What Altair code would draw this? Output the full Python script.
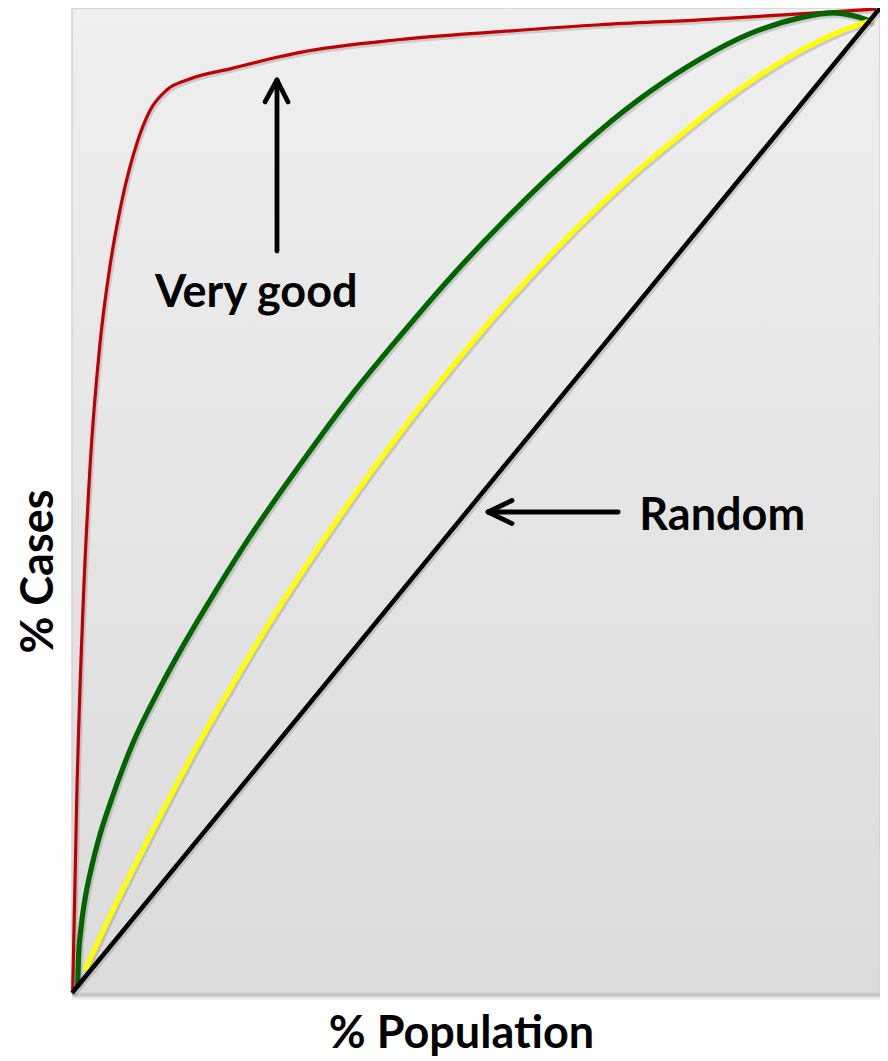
import altair as alt
import pandas as pd

# ---- curve data (x = % population, y = % cases) ----
red_x = [0.09, 0.58, 1.40, 2.23, 3.47, 4.70, 6.19, 8.04, 9.65, 11.76, 14.23, 19.93, 25.37, 28.22, 40.59, 52.97, 65.35, 77.72, 90.10, 99.50]
red_y = [0.3, 19.6, 39.9, 53.4, 66.0, 73.8, 80.5, 86.3, 89.6, 91.7, 92.7, 93.9, 95.0, 95.5, 96.8, 97.6, 98.3, 98.8, 99.4, 99.9]

green_x = [0.7, 0.8, 1.1, 1.6, 2.4, 3.4, 4.7, 7.5, 10.9, 14.2, 17.4, 22.0, 28.2, 34.4, 40.6, 46.8, 53.0, 59.2, 65.4, 71.5, 77.7, 83.9, 90.1, 94.2, 97.2, 99.0]
green_y = [0.8, 3.5, 6.5, 9.5, 12.7, 15.9, 19.2, 25.3, 31.0, 35.9, 40.3, 46.3, 53.6, 60.5, 66.7, 72.6, 78.0, 83.0, 87.6, 91.5, 94.8, 97.4, 99.0, 99.5, 99.1, 98.6]

yellow_x = [1.6, 5, 10, 15, 20, 25, 30, 35, 40, 45, 50, 55, 60, 65, 70, 75, 80, 85, 90, 95, 99.1]
yellow_y = [2.3, 8.3, 16.5, 24.3, 31.5, 38.3, 44.6, 50.6, 56.2, 61.5, 66.5, 71.2, 75.6, 79.7, 83.5, 86.9, 90.2, 93.1, 95.6, 97.6, 98.8]

random_x = [0, 100]
random_y = [0, 100]

# ---- annotations ----
label_text = ["Very good", "Random"]
label_x = [22.8, 70.2]
label_y = [69.6, 47.0]
label_align = ["center", "left"]

# arrow segments: (x, y) -> (x2, y2)
arrow_x = [25.37, 25.37, 25.37, 67.6, 51.49, 51.49]
arrow_y = [75.33, 92.69, 92.69, 48.83, 48.83, 48.83]
arrow_x2 = [25.37, 23.89, 26.73, 51.7, 54.46, 54.46]
arrow_y2 = [92.5, 90.46, 90.46, 48.83, 50.0, 47.66]

W, H = 808, 985
FONT = "Lato"
TSIZE = 45

xs = alt.Scale(domain=[0, 100], nice=False, zero=False)
ys = alt.Scale(domain=[0, 100], nice=False, zero=False)

axx = alt.Axis(title="% Population", domain=False, ticks=False, labels=False, grid=False,
               titleFont=FONT, titleFontSize=TSIZE, titleFontWeight="bold", titleColor="black",
               titleX=389, titleY=54, titleBaseline="alphabetic", titleAlign="center")
axy = alt.Axis(title="% Cases", domain=False, ticks=False, labels=False, grid=False,
               titleFont=FONT, titleFontSize=TSIZE, titleFontWeight="bold", titleColor="black",
               titleX=-20, titleY=563, titleAngle=270, titleBaseline="alphabetic", titleAlign="center")


def X(f="x"):
    return alt.X(f, type="quantitative", scale=xs, axis=axx)


def Y(f="y"):
    return alt.Y(f, type="quantitative", scale=ys, axis=axy)


one = pd.DataFrame({"k": [0]})

layers = []
# drop shadow of the plot box
for dx, dy, op in [(4, 7, 0.12), (3, 5, 0.2), (2, 3, 0.3)]:
    layers.append(
        alt.Chart(one).mark_rect(fill="#888888", opacity=op).encode(
            x=alt.value(0), x2=alt.value(W + dx), y=alt.value(1), y2=alt.value(H + dy))
    )
# gradient background
grad = alt.Gradient(gradient="linear", x1=0, x2=0, y1=0, y2=1,
                    stops=[alt.GradientStop(color="#efefef", offset=0),
                           alt.GradientStop(color="#dbdbdb", offset=1)])
layers.append(
    alt.Chart(one).mark_rect(fill=grad, stroke="#d2d2d2", strokeWidth=1.5).encode(
        x=alt.value(0), x2=alt.value(W), y=alt.value(0), y2=alt.value(H))
)


def curve(xv, yv, color, width):
    df = pd.DataFrame({"x": xv, "y": yv})
    base = alt.Chart(df)
    sh = base.mark_line(color="#7a7a7a", opacity=0.3, strokeWidth=width + 1,
                        interpolate="monotone", xOffset=1.5, yOffset=2).encode(x=X(), y=Y())
    ln = base.mark_line(color=color, strokeWidth=width, interpolate="monotone").encode(x=X(), y=Y())
    return [sh, ln]


layers += curve(red_x, red_y, "#c00000", 3.2)
layers += curve(green_x, green_y, "#006400", 5.2)
layers += curve(yellow_x, yellow_y, "#ffff00", 5)
layers += curve(random_x, random_y, "#000000", 4.5)

arrows = pd.DataFrame({"x": arrow_x, "y": arrow_y, "x2": arrow_x2, "y2": arrow_y2})
layers.append(
    alt.Chart(arrows).mark_rule(color="black", strokeWidth=4.8, strokeCap="round").encode(
        x=X(), y=Y(), x2="x2:Q", y2="y2:Q")
)

for t, lx, ly, al in zip(label_text, label_x, label_y, label_align):
    df = pd.DataFrame({"x": [lx], "y": [ly], "label": [t]})
    layers.append(
        alt.Chart(df).mark_text(font=FONT, fontSize=TSIZE, fontWeight="bold", color="black",
                                align=al, baseline="alphabetic").encode(x=X(), y=Y(), text="label:N")
    )

chart = alt.layer(*layers).properties(
    width=W, height=H,
    padding={"left": 64, "top": 0, "right": 0, "bottom": 64},
    autosize=alt.AutoSizeParams(type="none"),
    background="white",
).configure_view(stroke=None)

chart.save("out.html", embed_options={"renderer": "svg", "actions": False})
